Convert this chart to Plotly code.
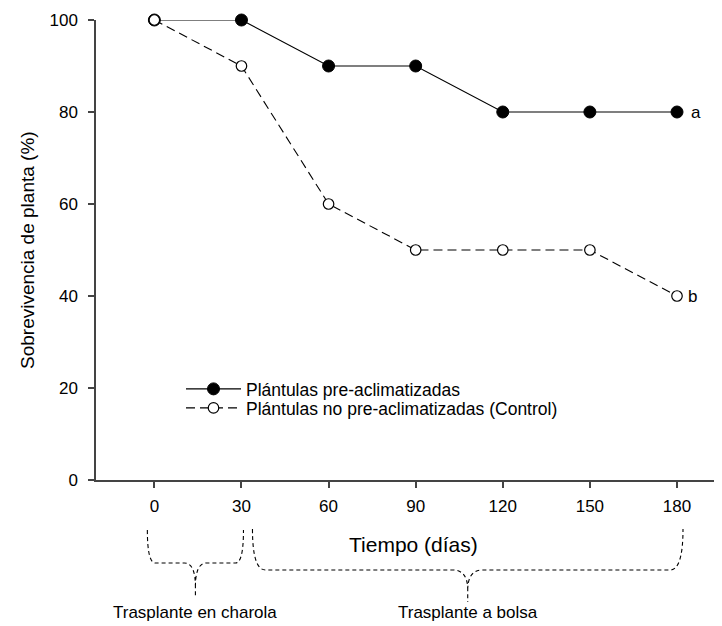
import plotly.graph_objects as go

# ---- data ----
dias = [0, 30, 60, 90, 120, 150, 180]
pre_aclim = [100, 100, 90, 90, 80, 80, 80]
control = [100, 90, 60, 50, 50, 50, 40]
serie_nombres = ["Plántulas pre-aclimatizadas", "Plántulas no pre-aclimatizadas (Control)"]
letras = ["a", "b"]
y_ticks = [0, 20, 40, 60, 80, 100]
fases = ["Trasplante en charola", "Trasplante a bolsa"]
fase_inicio = [0, 30]
fase_fin = [30, 180]

# ---- layout geometry (page pixels; the page body has an 8px margin) ----
BODY = 8
WIDTH, HEIGHT = 722, 626
PLOT_L, PLOT_T, PLOT_R, PLOT_B = 96, 20, 722, 480   # plot area in page pixels
ML = PLOT_L - BODY
MT = PLOT_T - BODY
MR = WIDTH - (PLOT_R - BODY)
MB = HEIGHT - (PLOT_B - BODY)
PW, PH = PLOT_R - PLOT_L, PLOT_B - PLOT_T
XMIN, XMAX = -20.1, 195.5
PXD = PW / (XMAX - XMIN)  # pixels per day
FONT = "Liberation Sans, Arial, sans-serif"


def py2paper(py):
    return (PLOT_B - py) / PH


def px2paper(px):
    return (px - PLOT_L) / PW


fig = go.Figure()
fig.add_trace(go.Scatter(
    x=dias, y=pre_aclim, name=serie_nombres[0], mode="lines+markers",
    line=dict(color="black", width=1.2),
    marker=dict(symbol="circle", size=12, color="black", line=dict(color="black", width=1)),
    cliponaxis=False, legend="legend",
))
fig.add_trace(go.Scatter(
    x=dias, y=control, name=serie_nombres[1], mode="lines+markers",
    line=dict(color="black", width=1.1, dash="9px,5px"),
    marker=dict(symbol="circle", size=10.5, color="white", line=dict(color="black", width=1.2)),
    cliponaxis=False, legend="legend2",
))

annotations = []
# significance letters
for letra, serie, dx in zip(letras, [pre_aclim, control], [19, 15]):
    annotations.append(dict(x=dias[-1], y=serie[-1], text=letra, showarrow=False,
                            xshift=dx, xanchor="center",
                            font=dict(size=17, family=FONT, color="black")))
# axis titles
annotations.append(dict(xref="paper", yref="paper", x=px2paper(413), y=py2paper(544),
                        xanchor="center", yanchor="middle",
                        text="Tiempo (días)", showarrow=False,
                        font=dict(size=21, family=FONT, color="black")))
annotations.append(dict(xref="paper", yref="paper", x=px2paper(27), y=0.5, textangle=-90,
                        xanchor="center", yanchor="middle",
                        text="Sobrevivencia de planta (%)", showarrow=False,
                        font=dict(size=19, family=FONT, color="black")))

# braces under the axis
brace_geo = [
    # pad_left(px), pad_right(px), top, horiz, cusp, tip, corner r, centre r
    dict(pl=-7, pr=2, yt=530, yh=563, yc=587, ytip=598, rc=8, rm=11),
    dict(pl=11, pr=6, yt=529, yh=570, yc=590, ytip=602, rc=13, rm=15),
]
shapes = []
for fase, x0d, x1d, g in zip(fases, fase_inicio, fase_fin, brace_geo):
    xa = x0d + g["pl"] / PXD
    xb = x1d + g["pr"] / PXD
    xm = (xa + xb) / 2
    rc = g["rc"] / PXD
    rm = g["rm"] / PXD
    yt, yh, yc, ytip = (py2paper(g[k]) for k in ("yt", "yh", "yc", "ytip"))
    path = (f"M{xa},{yt} Q{xa},{yh} {xa + rc},{yh} L{xm - rm},{yh} Q{xm},{yh} {xm},{yc} L{xm},{ytip} "
            f"M{xm},{yc} Q{xm},{yh} {xm + rm},{yh} L{xb - rc},{yh} Q{xb},{yh} {xb},{yt}")
    shapes.append(dict(type="path", xref="x", yref="paper", path=path,
                       line=dict(color="black", width=1.1, dash="4px,3px")))
    annotations.append(dict(xref="x", yref="paper", x=xm, y=py2paper(612), text=fase,
                            xanchor="center", yanchor="middle",
                            showarrow=False, font=dict(size=17, family=FONT, color="black")))

legend_style = dict(xanchor="left", yanchor="middle", bgcolor="rgba(0,0,0,0)",
                    font=dict(size=17.5, family=FONT, color="black"), itemwidth=55)
fig.update_layout(
    width=WIDTH, height=HEIGHT,
    margin=dict(l=ML, r=MR, t=MT, b=MB, autoexpand=False),
    paper_bgcolor="white", plot_bgcolor="white",
    font=dict(family=FONT, size=17, color="black"),
    showlegend=True,
    legend=dict(x=px2paper(181), y=py2paper(389), **legend_style),
    legend2=dict(x=px2paper(181), y=py2paper(408), **legend_style),
    annotations=annotations,
    shapes=shapes,
)
fig.update_xaxes(range=[XMIN, XMAX], tickmode="array", tickvals=dias,
                 ticks="outside", ticklen=6, tickwidth=1.5, tickcolor="#444",
                 showline=True, linecolor="#444", linewidth=1.5, ticklabelstandoff=4,
                 showgrid=False, zeroline=False, tickfont=dict(size=17, family=FONT, color="black"))
fig.update_yaxes(range=[0, 100], tickmode="array", tickvals=y_ticks,
                 ticks="outside", ticklen=6, tickwidth=1.5, tickcolor="#444",
                 showline=True, linecolor="#444", linewidth=1.5, ticklabelstandoff=7,
                 showgrid=False, zeroline=False, tickfont=dict(size=17, family=FONT, color="black"))

fig.write_html("out.html")
